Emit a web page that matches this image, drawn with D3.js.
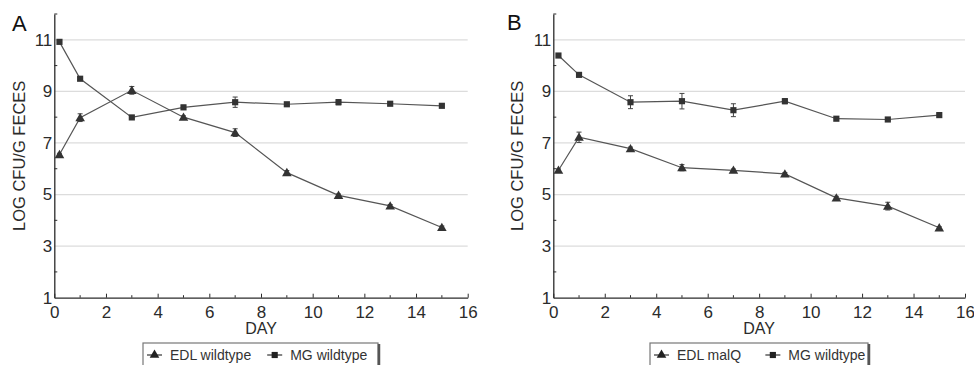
<!DOCTYPE html>
<html>
<head>
<meta charset="utf-8">
<script src="https://cdn.jsdelivr.net/npm/d3@7"></script>
<style>
  body { margin: 0; background: #fff; }
  svg { display: block; font-family: "Liberation Sans", Arial, sans-serif; }
</style>
</head>
<body>
<svg id="chart" width="974" height="365"></svg>
<script>
// data
const days = [0.2, 1, 3, 5, 7, 9, 11, 13, 15]

const edlWildtype = [6.55, 7.98, 9.04, 8.0, 7.4, 5.85, 4.97, 4.56, 3.72]
const edlWildtypeErr = [0.05, 0.15, 0.15, 0.05, 0.15, 0.08, 0.05, 0.05, 0.06]
const mgWildtypeA = [10.92, 9.49, 7.99, 8.38, 8.58, 8.5, 8.58, 8.52, 8.44]
const mgWildtypeAErr = [0.05, 0.05, 0.05, 0.08, 0.2, 0.05, 0.1, 0.06, 0.04]

const edlMalQ = [5.94, 7.22, 6.78, 6.04, 5.94, 5.8, 4.87, 4.55, 3.71]
const edlMalQErr = [0.05, 0.2, 0.06, 0.12, 0.05, 0.05, 0.06, 0.15, 0.04]
const mgWildtypeB = [10.39, 9.64, 8.58, 8.62, 8.27, 8.62, 7.94, 7.91, 8.08]
const mgWildtypeBErr = [0.05, 0.05, 0.25, 0.3, 0.25, 0.1, 0.05, 0.04, 0.05]

const xTicks = [0, 2, 4, 6, 8, 10, 12, 14, 16]
const xMinorTicks = [1, 3, 5, 7, 9, 11, 13, 15]
const yTicks = [1, 3, 5, 7, 9, 11]
const yMinorTicks = [2, 4, 6, 8, 10, 12]

const panels = [
  { letter: 'A', left: 54.3, right: 467.7, letterX: 12, letterY: 31, titleX: 25,
    legendX: 143, legendW: 235, labels: ['EDL wildtype', 'MG wildtype'],
    series: [
      { values: edlWildtype, err: edlWildtypeErr, shape: 'triangle' },
      { values: mgWildtypeA, err: mgWildtypeAErr, shape: 'square' }
    ] },
  { letter: 'B', left: 553.3, right: 965, letterX: 507, letterY: 30, titleX: 523,
    legendX: 650, legendW: 218, labels: ['EDL malQ', 'MG wildtype'],
    series: [
      { values: edlMalQ, err: edlMalQErr, shape: 'triangle' },
      { values: mgWildtypeB, err: mgWildtypeBErr, shape: 'square' }
    ] }
]

const plotTop = 14, plotBottom = 297.7
const ink = '#2b2b2b'

const svg = d3.select('#chart')

const symbolFor = shape => shape === 'triangle'
  ? d3.symbol().type(d3.symbolTriangle).size(40)
  : d3.symbol().type(d3.symbolSquare).size(38)

panels.forEach(p => {
  const x = d3.scaleLinear().domain([0, 16]).range([p.left, p.right])
  const y = d3.scaleLinear().domain([1, 12]).range([plotBottom, plotTop])
  const g = svg.append('g')

  // gridlines
  g.selectAll('.grid')
    .data(yTicks.filter(d => d > 1))
    .join('line')
      .attr('x1', x(0)).attr('x2', x(16))
      .attr('y1', d => y(d)).attr('y2', d => y(d))
      .attr('stroke', '#dcdcdc').attr('stroke-width', 1.2)

  // x axis
  const xAxis = g.append('g')
    .attr('transform', `translate(0,${plotBottom})`)
    .call(d3.axisBottom(x).tickValues(xTicks).tickSizeInner(-4).tickSizeOuter(0).tickPadding(8))
  xAxis.selectAll('text').attr('font-size', 17).attr('fill', ink)
  xAxis.select('.domain').attr('stroke', ink).attr('stroke-width', 1.3)
  xAxis.selectAll('line').attr('stroke', ink)
  g.selectAll('.xminor')
    .data(xMinorTicks)
    .join('line')
      .attr('x1', d => x(d)).attr('x2', d => x(d))
      .attr('y1', plotBottom).attr('y2', plotBottom - 2.5)
      .attr('stroke', ink)

  // y axis
  const yAxis = g.append('g')
    .attr('transform', `translate(${p.left},0)`)
    .call(d3.axisLeft(y).tickValues(yTicks).tickSizeInner(0).tickSizeOuter(0).tickPadding(2))
  yAxis.selectAll('text').attr('font-size', 17).attr('fill', ink)
  yAxis.select('.domain').attr('stroke', ink).attr('stroke-width', 1.3)
  g.selectAll('.yminor')
    .data(yMinorTicks)
    .join('line')
      .attr('x1', x(0)).attr('x2', x(0) + 3)
      .attr('y1', d => y(d)).attr('y2', d => y(d))
      .attr('stroke', ink)

  // titles
  g.append('text')
    .attr('x', (p.left + p.right) / 2).attr('y', 334)
    .attr('text-anchor', 'middle').attr('font-size', 16).attr('fill', ink)
    .text('DAY')
  g.append('text')
    .attr('transform', `translate(${p.titleX},${y(6.5)}) rotate(-90)`)
    .attr('text-anchor', 'middle').attr('font-size', 16.5).attr('fill', ink)
    .text('LOG CFU/G FECES')
  g.append('text')
    .attr('x', p.letterX).attr('y', p.letterY)
    .attr('font-size', 22).attr('fill', '#111')
    .text(p.letter)

  // series
  const line = d3.line().x((d, i) => x(days[i])).y(d => y(d))
  p.series.forEach(s => {
    g.append('path')
      .datum(s.values)
      .attr('d', line)
      .attr('fill', 'none').attr('stroke', '#555').attr('stroke-width', 1.2)

    const bars = g.append('g')
    s.values.forEach((v, i) => {
      const cx = x(days[i])
      const lo = y(v - s.err[i]), hi = y(v + s.err[i])
      bars.append('line').attr('x1', cx).attr('x2', cx).attr('y1', lo).attr('y2', hi)
        .attr('stroke', '#444').attr('stroke-width', 1)
      ;[lo, hi].forEach(yy => bars.append('line')
        .attr('x1', cx - 2.5).attr('x2', cx + 2.5).attr('y1', yy).attr('y2', yy)
        .attr('stroke', '#444').attr('stroke-width', 1))
    })

    g.selectAll(null)
      .data(s.values)
      .join('path')
        .attr('d', symbolFor(s.shape))
        .attr('transform', (d, i) => `translate(${x(days[i])},${y(d) + (s.shape === 'triangle' ? 0.8 : 0)})`)
        .attr('fill', '#333')
  })

  // legend
  const lg = g.append('g').attr('transform', `translate(${p.legendX},343)`)
  lg.append('rect')
    .attr('x', 0).attr('y', 0).attr('width', p.legendW).attr('height', 30)
    .attr('fill', '#fff').attr('stroke', '#777').attr('stroke-width', 1.2)
  lg.append('line')
    .attr('x1', p.legendW + 1).attr('x2', p.legendW + 1).attr('y1', 1).attr('y2', 30)
    .attr('stroke', '#555').attr('stroke-width', 2.5)
  const itemX = [2, p.legendW * 0.52]
  p.labels.forEach((label, i) => {
    const ix = itemX[i]
    lg.append('line')
      .attr('x1', ix + 2).attr('x2', ix + 17).attr('y1', 12).attr('y2', 12)
      .attr('stroke', '#333').attr('stroke-width', 1.2)
    lg.append('path')
      .attr('d', symbolFor(p.series[i].shape))
      .attr('transform', `translate(${ix + 9.5},12)`)
      .attr('fill', '#222')
    lg.append('text')
      .attr('x', ix + 25).attr('y', 17)
      .attr('font-size', 14).attr('fill', '#333')
      .text(label)
  })
})
</script>
</body>
</html>
